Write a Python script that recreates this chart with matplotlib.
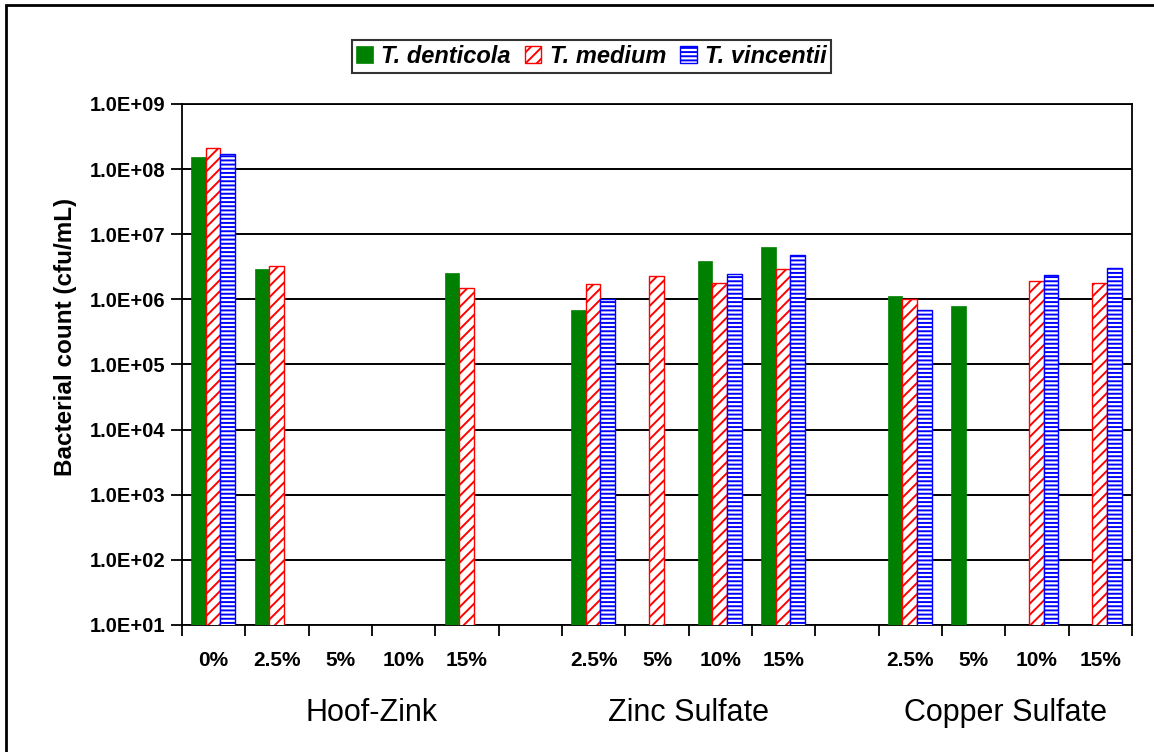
import numpy as np
import matplotlib
matplotlib.use('Agg')
import matplotlib.pyplot as plt
from matplotlib.patches import Rectangle, Patch
from matplotlib.ticker import FixedLocator, FuncFormatter, NullLocator, LogLocator

plt.rcParams['font.family'] = ['Liberation Sans', 'DejaVu Sans']
plt.rcParams['hatch.linewidth'] = 1.4

nan = np.nan
categories = ['0%', '2.5%', '5%', '10%', '15%', '',
              '2.5%', '5%', '10%', '15%', '',
              '2.5%', '5%', '10%', '15%']
groups = ['Hoof-Zink', 'Zinc Sulfate', 'Copper Sulfate']
group_centers = [2.5, 7.5, 12.5]
series_names = ['T. denticola', 'T. medium', 'T. vincentii']

t_denticola = [1.53e8, 2.9e6, nan, nan, 2.5e6, nan,
               6.85e5, nan, 3.87e6, 6.3e6, nan,
               1.11e6, 7.8e5, nan, nan]
t_medium = [2.1e8, 3.3e6, nan, nan, 1.49e6, nan,
            1.7e6, 2.3e6, 1.76e6, 2.9e6, nan,
            1.0e6, nan, 1.94e6, 1.76e6]
t_vincentii = [1.7e8, nan, nan, nan, nan, nan,
               1.0e6, nan, 2.42e6, 4.86e6, nan,
               6.8e5, nan, 2.35e6, 3.03e6]

W, H = 1154, 752
fig = plt.figure(figsize=(W / 100, H / 100), dpi=100)
ax = fig.add_axes([182 / W, 1 - 625 / H, (1132 - 182) / W, (625 - 104) / H])

x = np.arange(len(categories))
bw = 0.23
base = 1.0
styles = [
    dict(color='#008000', edgecolor='#008000', linewidth=0.5),
    dict(facecolor='white', edgecolor='#ff0000', hatch='///', linewidth=1.0),
    dict(facecolor='white', edgecolor='#0000ff', hatch='----', linewidth=1.0),
]
for i, (vals, st) in enumerate(zip([t_denticola, t_medium, t_vincentii], styles)):
    v = np.array(vals, dtype=float)
    mask = ~np.isnan(v)
    ax.bar(x[mask] + (i - 1) * bw - 0.01, v[mask] - base, bottom=base, width=bw,
           zorder=3, **st)

ax.set_yscale('log')
ax.set_ylim(1e1, 1e9)
ax.set_xlim(-0.5, len(categories) - 0.5)
ax.yaxis.set_major_locator(LogLocator(base=10, numticks=20))
ax.yaxis.set_minor_locator(NullLocator())
ax.yaxis.set_major_formatter(FuncFormatter(lambda v, _: f"{v:.1E}"))
ax.grid(axis='y', color='black', linewidth=1.4, zorder=1)
ax.set_axisbelow(True)

ax.xaxis.set_major_locator(FixedLocator(x))
ax.set_xticklabels(categories)
ax.xaxis.set_minor_locator(FixedLocator(np.arange(-0.5, len(categories), 1.0)))
ax.tick_params(axis='x', which='major', length=0, pad=18.5, labelsize=15)
ax.tick_params(axis='x', which='minor', length=8, width=1.3, direction='out', color='black')
ax.tick_params(axis='y', which='major', length=8, width=1.3, direction='out', labelsize=14.5, pad=4)
for lab in ax.get_xticklabels() + ax.get_yticklabels():
    lab.set_fontweight('bold')

for sp in ax.spines.values():
    sp.set_linewidth(1.3)
    sp.set_color('black')

fig.text(66 / W, 1 - 337 / H, 'Bacterial count (cfu/mL)', rotation=90,
         ha='center', va='center', fontsize=17.5, fontweight='bold')

trans = ax.get_xaxis_transform()
for g, c in zip(groups, group_centers):
    ax.text(c, -0.168, g, transform=trans, ha='center', va='center', fontsize=22)

handles = [Patch(**styles[0]), Patch(**styles[1]), Patch(**styles[2])]
leg = fig.legend(handles, series_names, loc='center',
                 bbox_to_anchor=(591.5 / W, 1 - 56.5 / H), ncol=3,
                 prop=dict(family='Liberation Sans', weight='bold', style='italic', size=17),
                 frameon=True, fancybox=False, handlelength=0.7, handleheight=0.7,
                 handletextpad=0.35, columnspacing=0.6, borderpad=0.2, borderaxespad=0)
leg.get_frame().set_edgecolor('black')
leg.get_frame().set_linewidth(1.5)

fig.add_artist(Rectangle((6 / W, -0.05), 1.1, 1.05 - 5 / H, transform=fig.transFigure,
                         fill=False, edgecolor='black', linewidth=2, clip_on=False))

fig.savefig('out.png', dpi=100)
